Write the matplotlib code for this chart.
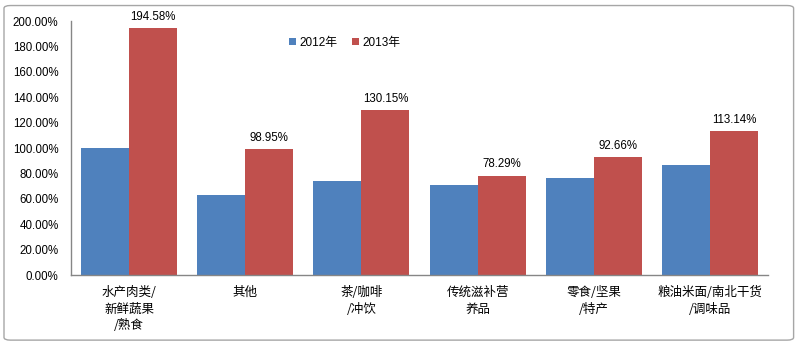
import numpy as np
from matplotlib import pyplot as plt
from matplotlib.patches import FancyBboxPatch
from matplotlib.ticker import FuncFormatter

plt.rcParams['font.family'] = ['Liberation Sans', 'Noto Sans CJK SC', 'DejaVu Sans']

# categories and yearly growth rates (%)
categories = ['水产肉类/\n新鲜蔬果\n/熟食', '其他', '茶/咖啡\n/冲饮',
              '传统滋补营\n养品', '零食/坚果\n/特产', '粮油米面/南北干货\n/调味品']
rate_2012 = [100.0, 63.0, 74.0, 70.9, 76.4, 86.9]
rate_2013 = [194.58, 98.95, 130.15, 78.29, 92.66, 113.14]
series_names = ['2012年', '2013年']

blue = '#4F81BD'
red = '#C0504D'

fig = plt.figure(figsize=(8, 3.46), dpi=100)
fig.patch.set_facecolor('white')

# chart frame
frame = FancyBboxPatch((0.005, 0.017), 0.987, 0.967, boxstyle='round,pad=0,rounding_size=0.008',
                       transform=fig.transFigure, facecolor='none', edgecolor='#a6a6a6',
                       linewidth=1.0)
fig.patches.append(frame)

ax = fig.add_axes([0.08875, 0.2052, 0.8713, 0.7341])
ax.set_zorder(2)
ax.patch.set_alpha(0)

x = np.arange(len(categories))
w = 0.413
ax.bar(x - w / 2, rate_2012, w, color=blue, label=series_names[0])
bars13 = ax.bar(x + w / 2, rate_2013, w, color=red, label=series_names[1])

for b, v in zip(bars13, rate_2013):
    ax.text(b.get_x() + b.get_width() / 2, v + 4, f'{v:.2f}%', ha='center', va='bottom',
            fontsize=8.3, color='black')

ax.set_xlim(-0.5, len(categories) - 0.5)
ax.set_ylim(0, 200)
ax.set_yticks(np.arange(0, 201, 20))
ax.yaxis.set_major_formatter(FuncFormatter(lambda v, p: f'{v:.2f}%'))
ax.set_xticks(x)
ax.set_xticklabels(categories, fontsize=9, linespacing=1.35,
                   family=['Noto Sans CJK SC', 'DejaVu Sans'])
ax.tick_params(axis='y', length=0, pad=9, labelsize=8.3)
ax.tick_params(axis='x', length=0, pad=8)

for s in ['top', 'right']:
    ax.spines[s].set_visible(False)
for s in ['left', 'bottom']:
    ax.spines[s].set_color('#868686')
    ax.spines[s].set_linewidth(1.0)

leg = ax.legend(loc='center', bbox_to_anchor=(0.393, 0.915), ncol=2, frameon=False,
                handlelength=0.6, handleheight=0.6, handletextpad=0.3, columnspacing=1.2,
                prop={'family': ['Liberation Sans', 'Noto Sans CJK SC'], 'size': 8.5})

fig.savefig('out.png', dpi=100)
